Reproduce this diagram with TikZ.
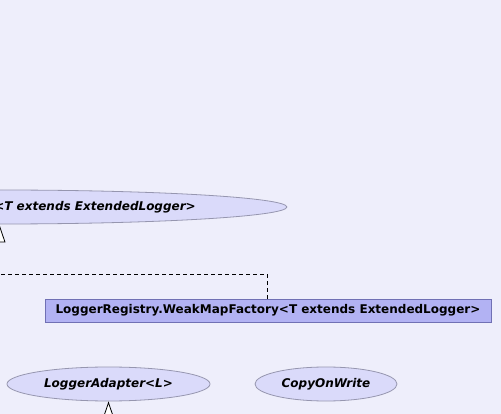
\documentclass[tikz,border=0pt]{standalone}
\usepackage{fontspec}
\setmainfont{DejaVu Sans}
\usetikzlibrary{shapes.geometric,arrows.meta}
\definecolor{bgc}{RGB}{238,238,251}
\definecolor{ellfill}{RGB}{218,218,250}
\definecolor{ellline}{RGB}{150,150,175}
\definecolor{boxfill}{RGB}{178,178,243}
\definecolor{boxline}{RGB}{112,112,180}
\tikzset{
  iface/.style={ellipse, draw=ellline, fill=ellfill, line width=0.8pt, inner sep=0pt,
    font=\fontsize{12}{14}\selectfont\bfseries\itshape},
  klass/.style={rectangle, draw=boxline, fill=boxfill, line width=0.8pt, inner sep=0pt,
    font=\fontsize{12}{14}\selectfont\bfseries},
  lbl/.style={inner sep=0pt, font=\fontsize{12}{14}\selectfont\bfseries\itshape},
  inherit/.style={line width=0.8pt, -{Triangle[open, fill=white, length=18pt, width=12pt]}},
  dep/.style={line width=0.8pt, dash pattern=on 4pt off 3pt},
}
\begin{document}
\begin{tikzpicture}[x=1pt,y=-1pt]
\useasboundingbox (0,0) rectangle (501,414);
\clip (0,0) rectangle (501,414);
\fill[bgc] (0,0) rectangle (501,414);
% MapFactory interface (cut off at left)
\node[iface, minimum width=575pt, minimum height=34pt] (mf) at (-0.6,207) {};
\node[lbl, anchor=east] (mflbl) at (196,207) {<T extends ExtendedLogger>};
\coordinate (mfsub) at (-0.6,270);
\draw[inherit] (mfsub) -- (mf.south);
% WeakMapFactory class
\node[klass, minimum width=446pt, minimum height=23pt] (wmf) at (268,310.5)
  {LoggerRegistry.WeakMapFactory<T extends ExtendedLogger>};
\coordinate (depleft) at (-5,274);
\coordinate (depcorner) at (267,274);
\draw[dep] (wmf.north -| depcorner) -- (depcorner) -- (depleft);
% Interfaces at bottom
\node[iface, minimum width=203pt, minimum height=34pt] (la) at (108.5,384) {LoggerAdapter<L>};
\node[iface, minimum width=142pt, minimum height=34pt] (cow) at (326,384) {CopyOnWrite};
\coordinate (lasub) at (108.5,450);
\draw[inherit] (lasub) -- (la.south);
\end{tikzpicture}
\end{document}
